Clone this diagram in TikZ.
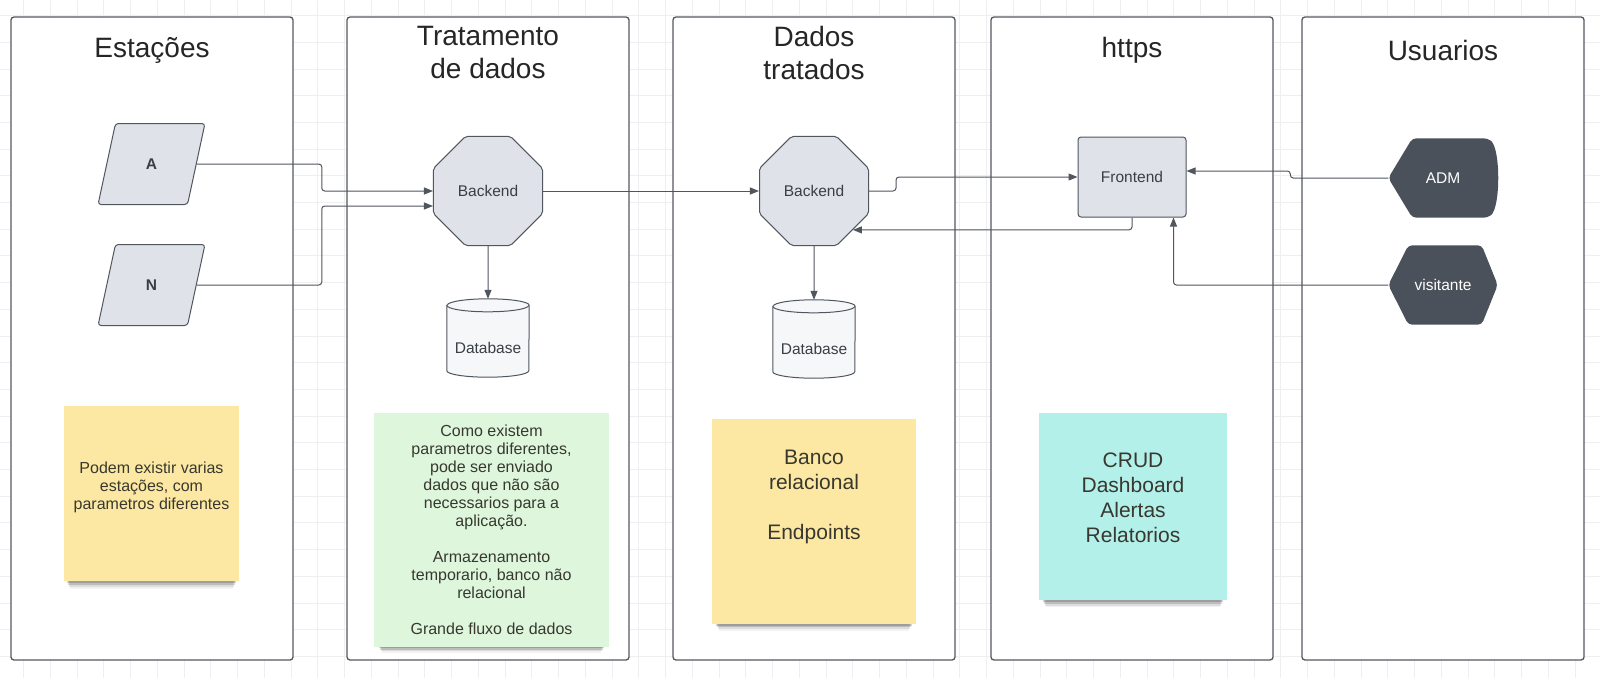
\documentclass[tikz,border=0pt]{standalone}
\usepackage{fontspec}
\setmainfont{Liberation Sans}
\usepackage{xcolor}
\usetikzlibrary{arrows.meta, shapes.geometric, shadows, calc}

\definecolor{lanegray}{HTML}{53585F}
\definecolor{gridgray}{HTML}{EFEFEF}
\definecolor{shapefill}{HTML}{DFE2E8}
\definecolor{shapeline}{HTML}{50565E}
\definecolor{shapetext}{HTML}{3A3F46}
\definecolor{userfill}{HTML}{4B515B}
\definecolor{dbfill}{HTML}{F6F7F9}
\definecolor{notey}{HTML}{FCE8A3}
\definecolor{noteg}{HTML}{DDF6DC}
\definecolor{notec}{HTML}{B3F0EA}
\definecolor{notetext}{HTML}{38382F}

\pgfdeclarelayer{bg}
\pgfdeclarelayer{shapes}
\pgfsetlayers{bg,shapes,main}

% cylinder round a named node
\newcommand{\dbshape}[1]{%
  \filldraw[dbline] ($(#1.north west)+(0,6.5)$) -- ($(#1.south west)+(0,-6.5)$)
    arc[start angle=180, end angle=360, x radius=41pt, y radius=6.5pt]
    -- ($(#1.north east)+(0,6.5)$)
    arc[start angle=0, end angle=180, x radius=41pt, y radius=6.5pt] -- cycle;
  \draw[dbline] ($(#1.north west)+(0,6.5)$)
    arc[start angle=180, end angle=360, x radius=41pt, y radius=6.5pt];}
% display shape (pointed left, round right)
\newcommand{\dispshape}[1]{%
  \fill[userfill, rounded corners=4pt] (#1.west) -- ($(#1.north west)+(24,0)$)
    -- ($(#1.north east)+(-10,0)$)
    .. controls ($(#1.north east)+(3,10)$) and ($(#1.south east)+(3,-10)$) .. ($(#1.south east)+(-10,0)$)
    -- ($(#1.south west)+(24,0)$) -- cycle;}
% flat hexagon
\newcommand{\hexshape}[1]{%
  \fill[userfill, rounded corners=4pt] (#1.west) -- ($(#1.north west)+(20,0)$)
    -- ($(#1.north east)+(-16,0)$) -- (#1.east) -- ($(#1.south east)+(-16,0)$)
    -- ($(#1.south west)+(20,0)$) -- cycle;}

\begin{document}
\begin{tikzpicture}[x=1pt, y=-1pt,
    lane/.style={draw=lanegray, line width=1.3pt, fill=white, rounded corners=3pt},
    gridline/.style={draw=gridgray, line width=0.8pt},
    lanetitle/.style={font=\fontsize{28}{33}\selectfont, text=black!85, align=center},
    proc/.style={draw=shapeline, fill=shapefill, line width=1pt, text=shapetext,
      font=\fontsize{15.5}{18}\selectfont},
    dbline/.style={draw=shapeline, fill=dbfill, line width=1pt},
    user/.style={minimum width=109, minimum height=79, text=white,
      font=\fontsize{15.5}{18}\selectfont},
    flow/.style={draw=shapeline, line width=1pt, rounded corners=3pt,
      -{Triangle[length=9pt, width=7pt]}},
    note/.style={align=center, text=notetext, inner sep=0pt,
      general shadow={fill=black, opacity=0.05, shadow scale=0.93, shadow yshift=-15pt},
      general shadow={fill=black, opacity=0.09, shadow scale=0.94, shadow yshift=-12pt},
      general shadow={fill=black, opacity=0.14, shadow scale=0.95, shadow yshift=-9pt},
      general shadow={fill=black, opacity=0.16, shadow scale=0.96, shadow yshift=-6pt}},
  ]
  \useasboundingbox (0,0) rectangle (1600,678);

  % grid and swimlanes
  \begin{pgfonlayer}{bg}
    \fill[white] (0,0) rectangle (1600,678);
    \foreach \gx in {0,...,59}
      \draw[gridline] ({23.5+26.75*\gx},0) -- ++(0,678);
    \foreach \gy in {0,...,25}
      \draw[gridline] (0,{15.5+26.7*\gy}) -- ++(1600,0);
    \foreach \lx in {11,347,673,991,1302}
      \draw[lane] (\lx,17) rectangle ++(282,643);
  \end{pgfonlayer}

  % lane titles
  \node[lanetitle] (t1) at (152,50) {Estações};
  \node[lanetitle] (t2) at (488,53) {Tratamento\\de dados};
  \node[lanetitle] (t3) at (814,53) {Dados\\tratados};
  \node[lanetitle] (t4) at (1132,50) {https};
  \node[lanetitle] (t5) at (1443,50) {Usuarios};

  % stations
  \node[proc, trapezium, trapezium left angle=76, trapezium right angle=104,
    trapezium stretches=true, minimum width=107, minimum height=81,
    rounded corners=3pt, font=\fontsize{15.5}{18}\selectfont\bfseries] (sA) at (151.5,164) {A};
  \node[proc, trapezium, trapezium left angle=76, trapezium right angle=104,
    trapezium stretches=true, minimum width=107, minimum height=81,
    rounded corners=3pt, font=\fontsize{15.5}{18}\selectfont\bfseries] (sN) at (151.5,285) {N};

  % backends, databases, frontend
  \node[proc, regular polygon, regular polygon sides=8, minimum size=118,
    rounded corners=2pt] (be1) at (488,191) {Backend};
  \node[proc, regular polygon, regular polygon sides=8, minimum size=118,
    rounded corners=2pt] (be2) at (814,191) {Backend};
  \node[text=shapetext, font=\fontsize{15.5}{18}\selectfont, minimum width=82,
    minimum height=78, text height=31pt] (db1) at (488,338) {Database};
  \node[text=shapetext, font=\fontsize{15.5}{18}\selectfont, minimum width=82,
    minimum height=78, text height=31pt] (db2) at (814,339) {Database};
  \node[proc, rounded corners=3pt, minimum width=108, minimum height=80] (fe) at (1132,177) {Frontend};

  % users
  \node[user] (adm) at (1443,178) {ADM};
  \node[user] (vis) at (1443,285) {visitante};

  \begin{pgfonlayer}{shapes}
    \dbshape{db1}
    \dbshape{db2}
    \dispshape{adm}
    \hexshape{vis}
  \end{pgfonlayer}

  % sticky notes
  \node[note, fill=notey, minimum width=175, minimum height=175, text depth=15pt,
    font=\fontsize{16}{18}\selectfont] (n1) at (151.5,493.5)
    {Podem existir varias\\estações, com\\parametros diferentes};
  \node[note, fill=noteg, minimum width=235, minimum height=234,
    font=\fontsize{16}{18}\selectfont] (n2) at (491.5,530)
    {Como existem\\parametros diferentes,\\pode ser enviado\\dados que não são\\necessarios para a\\aplicação.\\[18pt]Armazenamento\\temporario, banco não\\relacional\\[18pt]Grande fluxo de dados};
  \node[note, fill=notey, minimum width=204, minimum height=205, text depth=54pt,
    font=\fontsize{21}{25}\selectfont] (n3) at (814,521.5)
    {Banco\\relacional\\[25pt]Endpoints};
  \node[note, fill=notec, minimum width=188, minimum height=187, text depth=18pt,
    font=\fontsize{21}{25}\selectfont] (n4) at (1133,506.5)
    {CRUD\\Dashboard\\Alertas\\Relatorios};

  % connectors
  \draw[flow] (sA.east) -- ++(125,0) |- (be1.west);
  \draw[flow] (sN.east) -- ++(125,0) |- ($(be1.west)+(0,15)$);
  \draw[flow] (be1.east) -- (be2.west);
  \draw[flow] (be1.south) -- (db1.north);
  \draw[flow] (be2.south) -- (db2.north);
  \draw[flow] (be2.east) -- ++(27,0) |- (fe.west);
  \draw[flow] (fe.south) |- (be2.-45);
  \draw[flow] (adm.west) -- ++(-98,0) |- ($(fe.east)+(0,-6)$);
  \draw[flow] (vis.west) -| ($(fe.south east)+(-13,0)$);
\end{tikzpicture}
\end{document}
